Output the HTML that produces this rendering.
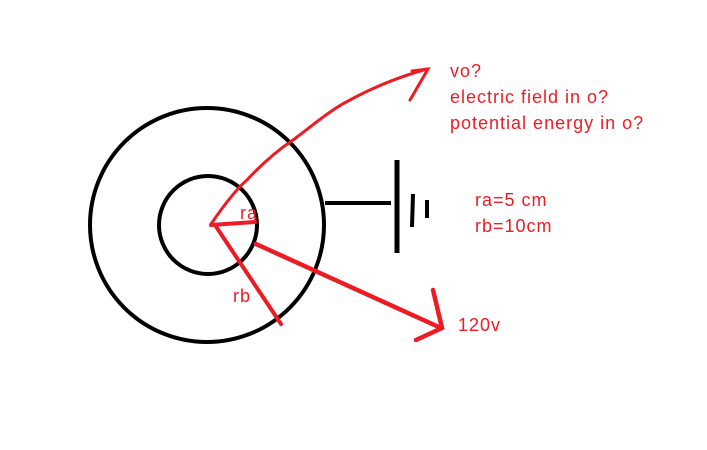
<!DOCTYPE html>
<html><head><style>
body{margin:0;background:#fff;width:707px;height:450px;overflow:hidden}
svg{display:block}
text{font-family:"Liberation Sans",sans-serif;font-size:18px;letter-spacing:1px;fill:#ed1c24}
</style></head><body>
<svg width="707" height="450" viewBox="0 0 707 450">
<g fill="none" stroke="#000" stroke-width="4">
<circle cx="207" cy="225" r="117"/>
<circle cx="208" cy="225" r="49"/>
<line x1="325" y1="203" x2="391" y2="203"/>
<line x1="397" y1="160" x2="397" y2="253" stroke-width="5"/>
<line x1="413" y1="194" x2="412" y2="227"/>
<line x1="427" y1="200" x2="427" y2="218"/>
</g>
<g fill="none" stroke="#ed1c24" stroke-linecap="round">
<path d="M211,224 C222,208 235,190 247,180 C260,166 275,152 293,140 C312,126 330,110 350,100 C372,88 395,78 427,69" stroke-width="3"/>
<path d="M410,100 L428,69 L412,71" stroke-width="3"/>
<line x1="211" y1="225" x2="255" y2="222" stroke-width="4"/>
<line x1="215" y1="225" x2="281" y2="324" stroke-width="4"/>
<line x1="256" y1="244" x2="441" y2="328" stroke-width="4.5"/>
<path d="M433,290 L442,328 L416,340" stroke-width="4.5"/>
</g>
<text x="450" y="77">vo?</text>
<text x="450" y="103">electric field in o?</text>
<text x="450" y="129">potential energy in o?</text>
<text x="475" y="206">ra=5 cm</text>
<text x="475" y="232">rb=10cm</text>
<text x="458" y="331">120v</text>
<text x="240" y="219">ra</text>
<text x="233" y="302">rb</text>
</svg>
</body></html>
